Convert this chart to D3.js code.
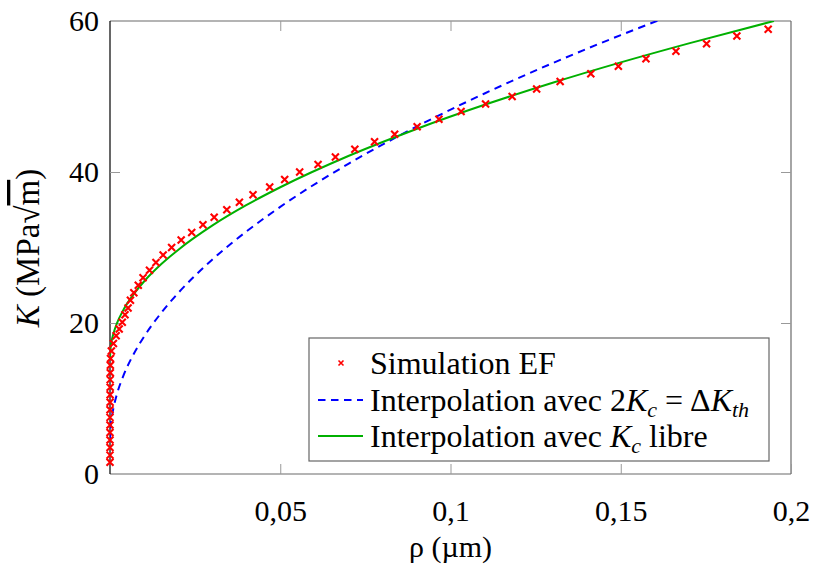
<!DOCTYPE html>
<html><head><meta charset="utf-8">
<script src="https://cdn.jsdelivr.net/npm/d3@7"></script>
<style>
body{margin:0;background:#fff}
text{font-family:"Liberation Serif","Times New Roman",serif;fill:#000}
</style>
</head><body><svg id="c" width="815" height="571"></svg>
<script>
// ---- data ----
const simRho = [0,0,0,0,0,0,0,0,0.00003,0.00003,0.00005,0.00005,0.00008,0.0001,0.00015,
  0.0004,0.001,0.0018,0.0027,0.0036,0.0044,0.0053,0.006,0.007,0.0083,0.0097,0.0116,0.0135,0.0156,0.0181,
  0.0209,0.024,0.0273,0.0306,0.0343,0.038,0.042,0.0469,0.0513,0.0557,0.0611,0.0662,0.0719,0.0777,0.0836,
  0.0902,0.0966,0.1031,0.1103,0.1181,0.1253,0.1322,0.1412,0.1493,0.1574,0.1662,0.1752,0.1841,0.1933];
const simK = [1.55,2.5,3.5,4.5,5.5,6.5,7.5,8.5,9.5,10.5,11.5,12.5,13.4,14.4,15.3,
  16.3,17.3,18.3,19.2,20.1,21.1,22,23,24,25,26,27,28,29,30,
  31,32,33,34,35,36,37,38,39,40,41,42,43,44,45,
  46,47,48,49,50,51,52,53,54,55,56,57,58,58.9];
const fixedRho = [0,0.0002,0.0005,0.001,0.002,0.004,0.007,0.01,0.015,0.02,0.03,0.04,0.05,0.07,0.09,0.11,0.13,0.15,0.165];
const fixedK   = [4.3,6.27,7.41,8.70,10.52,13.09,15.93,18.2,21.32,23.96,28.38,32.1,35.38,41.08,46.0,50.40,54.42,58.13,60.76];
const freeRho = [0,0.0002,0.0005,0.001,0.002,0.004,0.007,0.01,0.015,0.02,0.03,0.04,0.05,0.07,0.09,0.11,0.13,0.15,0.17,0.195];
const freeK   = [15.4,16.83,17.66,18.59,19.92,21.79,23.85,25.5,27.77,29.68,32.89,35.6,37.98,42.12,45.7,48.9,51.82,54.52,57.04,60.0];
const xTicks = [0.05,0.1,0.15,0.2];
const xTickLabels = ["0,05","0,1","0,15","0,2"];
const yTicks = [0,20,40,60];
const yTickLabels = ["0","20","40","60"];

// ---- layout ----
const L=110, R=791, T=21, B=474;
const FS=30, LFS=32;
const svg=d3.select("#c");
const x=d3.scaleLinear().domain([0,0.2]).range([L,R]);
const y=d3.scaleLinear().domain([0,60]).range([B,T]);

// frame
const frameCol="#6a6a6a";
svg.append("line").attr("x1",L).attr("x2",R).attr("y1",T).attr("y2",T).attr("stroke",frameCol).attr("stroke-width",1.2);
svg.append("line").attr("x1",R).attr("x2",R).attr("y1",T).attr("y2",B).attr("stroke",frameCol).attr("stroke-width",1.2);
svg.append("line").attr("x1",L).attr("x2",R).attr("y1",B).attr("y2",B).attr("stroke",frameCol).attr("stroke-width",1.2);
svg.append("line").attr("x1",L).attr("x2",L).attr("y1",T).attr("y2",B).attr("stroke","#000").attr("stroke-width",1.2);

// axes via d3 (ticks inside, gray)
const tickLen=10;
const xAxis=d3.axisBottom(x).tickValues(xTicks).tickFormat((d,i)=>xTickLabels[i]).tickSizeInner(-tickLen).tickSizeOuter(0).tickPadding(26);
const gx=svg.append("g").attr("transform",`translate(0,${B})`).call(xAxis);
gx.select(".domain").remove();
gx.selectAll(".tick line").attr("stroke","#999").attr("stroke-width",1);
gx.selectAll(".tick text").style("font-family",'"Liberation Serif",serif').style("font-size",FS+"px").attr("fill","#000");
const xAxisTop=d3.axisTop(x).tickValues(xTicks.filter(v=>v<0.2)).tickFormat("").tickSizeInner(-tickLen).tickSizeOuter(0);
const gxt=svg.append("g").attr("transform",`translate(0,${T})`).call(xAxisTop);
gxt.select(".domain").remove();
gxt.selectAll(".tick line").attr("stroke","#999");

const yAxis=d3.axisLeft(y).tickValues(yTicks).tickFormat((d,i)=>yTickLabels[i]).tickSizeInner(0).tickSizeOuter(0).tickPadding(11);
const gy=svg.append("g").attr("transform",`translate(${L},0)`).call(yAxis);
gy.select(".domain").remove();
gy.selectAll(".tick text").style("font-family",'"Liberation Serif",serif').style("font-size",FS+"px").attr("fill","#000");
const yTickLines=d3.axisLeft(y).tickValues(yTicks.filter(v=>v>0&&v<60)).tickFormat("").tickSizeInner(-tickLen).tickSizeOuter(0);
const gyl=svg.append("g").attr("transform",`translate(${L},0)`).call(yTickLines);
gyl.select(".domain").remove(); gyl.selectAll(".tick line").attr("stroke","#999");
const yTickR=d3.axisRight(y).tickValues(yTicks.filter(v=>v>0&&v<60)).tickFormat("").tickSizeInner(-tickLen).tickSizeOuter(0);
const gyr=svg.append("g").attr("transform",`translate(${R},0)`).call(yTickR);
gyr.select(".domain").remove(); gyr.selectAll(".tick line").attr("stroke","#999");

// clip
svg.append("clipPath").attr("id","clip").append("rect").attr("x",L).attr("y",T).attr("width",R-L).attr("height",B-T);

const line=d3.line().x(d=>x(d[0])).y(d=>y(d[1])).curve(d3.curveMonotoneX);
const blue="#0000ff", green="#00b000", red="#ff0000";
svg.append("path").datum(fixedRho.map((r,i)=>[r,fixedK[i]])).attr("d",line)
  .attr("fill","none").attr("stroke",blue).attr("stroke-width",2).attr("stroke-dasharray","7.5,5.5").attr("clip-path","url(#clip)");
svg.append("path").datum(freeRho.map((r,i)=>[r,freeK[i]])).attr("d",line)
  .attr("fill","none").attr("stroke",green).attr("stroke-width",2).attr("clip-path","url(#clip)");

// markers
const ms=3.5;
const cross=(cx,cy,s)=>`M${cx-s},${cy-s}L${cx+s},${cy+s}M${cx-s},${cy+s}L${cx+s},${cy-s}`;
svg.append("g").selectAll("path").data(simRho.map((r,i)=>[r,simK[i]])).join("path")
  .attr("d",d=>cross(x(d[0]),y(d[1]),ms)).attr("stroke",red).attr("stroke-width",2.1).attr("fill","none");

// axis labels
svg.append("text").attr("x",(L+R)/2).attr("y",557).attr("text-anchor","middle").style("font-size",FS+"px").text("ρ (µm)");
const yl=svg.append("text").attr("transform",`translate(39,248) rotate(-90)`).attr("text-anchor","middle").style("font-size","33px");
yl.append("tspan").style("font-style","italic").text("K");
yl.append("tspan").text(" (MPa√");
yl.append("tspan").style("text-decoration","overline").text("m");
yl.append("tspan").text(")");

// legend
const lg=svg.append("g");
lg.append("rect").attr("x",309).attr("y",338).attr("width",460).attr("height",123).attr("fill","#fff").attr("stroke","#666").attr("stroke-width",1.2);
const rows=[363,400,436];
lg.append("path").attr("d",cross(341,rows[0],2.5)).attr("stroke",red).attr("stroke-width",1.6);
lg.append("line").attr("x1",318).attr("x2",363).attr("y1",rows[1]).attr("y2",rows[1]).attr("stroke",blue).attr("stroke-width",2).attr("stroke-dasharray","7.5,5.5");
lg.append("line").attr("x1",318).attr("x2",363).attr("y1",rows[2]).attr("y2",rows[2]).attr("stroke",green).attr("stroke-width",2);
const tx=370, SUB="22px";
lg.append("text").attr("x",tx).attr("y",rows[0]+11).style("font-size",LFS+"px").text("Simulation EF");
const t2=lg.append("text").attr("x",tx).attr("y",rows[1]+11).style("font-size",LFS+"px");
t2.append("tspan").text("Interpolation avec 2");
t2.append("tspan").style("font-style","italic").text("K");
t2.append("tspan").style("font-style","italic").style("font-size",SUB).attr("dy",6).text("c");
t2.append("tspan").attr("dy",-6).attr("dx",8).text("=");
t2.append("tspan").attr("dx",7).text("Δ");
t2.append("tspan").style("font-style","italic").text("K");
t2.append("tspan").style("font-style","italic").style("font-size",SUB).attr("dy",6).text("th");
const t3=lg.append("text").attr("x",tx).attr("y",rows[2]+11).style("font-size",LFS+"px");
t3.append("tspan").text("Interpolation avec ");
t3.append("tspan").style("font-style","italic").text("K");
t3.append("tspan").style("font-style","italic").style("font-size",SUB).attr("dy",6).text("c");
t3.append("tspan").attr("dy",-6).text(" libre");
</script></body></html>
